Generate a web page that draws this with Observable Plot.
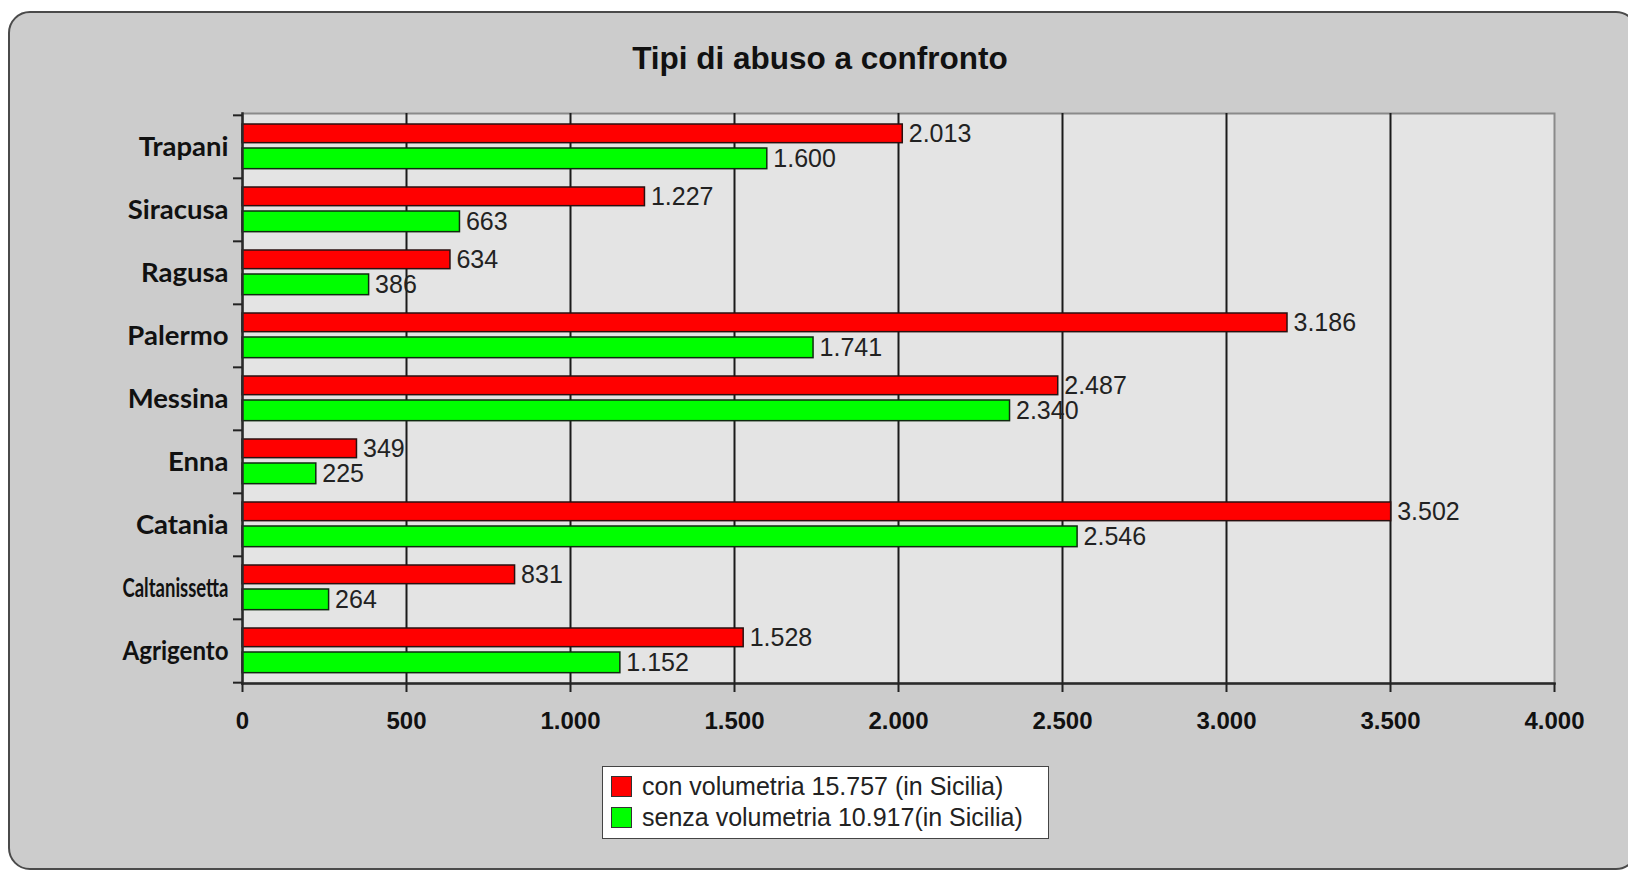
<!DOCTYPE html>
<html>
<head>
<meta charset="utf-8">
<script src="https://cdn.jsdelivr.net/npm/d3@7"></script>
<script src="https://cdn.jsdelivr.net/npm/@observablehq/plot@0.6"></script>
<style>
  html, body { margin: 0; padding: 0; background: #ffffff; }
  #wrap { position: relative; width: 1628px; height: 872px; overflow: hidden; }
  #bg { position: absolute; left: 8px; top: 11px; width: 1630px; height: 859px; background: #cccccc;
        border: 2px solid #4a4a4a; border-radius: 22px; box-sizing: border-box; }
  #title { position: absolute; left: 0; width: 1640px; top: 40px; text-align: center;
           font: bold 31.5px "Liberation Sans", Arial, sans-serif; line-height: 36px; color: #111; }
  #chart { position: absolute; left: 0; top: 0; }
  #legend { position: absolute; left: 602px; top: 766px; width: 447px; height: 73px; box-sizing: border-box;
            background: #ffffff; border: 1.5px solid #444; font: 25px "Liberation Sans", Arial, sans-serif; color: #222; }
  .row { position: absolute; left: 8px; height: 31px; line-height: 31px; white-space: nowrap; }
  .sw { display: inline-block; width: 19px; height: 19px; border: 1.5px solid #333; vertical-align: middle; margin-right: 10px; position: relative; top: -2px; }
</style>
</head>
<body>
<div id="wrap">
  <div id="bg"></div>
  <div id="chart"></div>
  <div id="title"></div>
  <div id="legend"></div>
</div>
<script>
// Data (top-to-bottom order as drawn)
const cities = ["Trapani", "Siracusa", "Ragusa", "Palermo", "Messina", "Enna", "Catania", "Caltanissetta", "Agrigento"];
const conVolumetria   = [2013, 1227, 634, 3186, 2487, 349, 3502, 831, 1528];
const senzaVolumetria = [1600, 663, 386, 1741, 2340, 225, 2546, 264, 1152];
const xTicks = [0, 500, 1000, 1500, 2000, 2500, 3000, 3500, 4000];
const gridTicks = [500, 1000, 1500, 2000, 2500, 3000, 3500];
const seriesNames = ["con volumetria 15.757 (in Sicilia)", "senza volumetria 10.917(in Sicilia)"];
const seriesColors = ["#ff0000", "#00ff00"];
const titleText = "Tipi di abuso a confronto";

const itFmt = d3.formatLocale({decimal: ",", thousands: ".", grouping: [3], currency: ["", "€"]}).format(",");

const conData = cities.map((c, i) => ({city: c, value: conVolumetria[i]}));
const senzaData = cities.map((c, i) => ({city: c, value: senzaVolumetria[i]}));

const W = 1628, H = 872;
const mL = 242, mR = 74, mT = 113, mB = 189;
const step = (H - mT - mB) / cities.length;

const chart = Plot.plot({
  width: W, height: H,
  marginLeft: mL, marginRight: mR, marginTop: mT, marginBottom: mB,
  style: {background: "transparent", overflow: "visible"},
  x: {domain: [0, 4000], axis: null},
  y: {domain: cities, padding: 0, axis: null},
  marks: [
    Plot.frame({fill: "#e4e4e4", stroke: "#8a8a8a", strokeWidth: 2}),
    Plot.ruleX(gridTicks, {stroke: "#1a1a1a", strokeWidth: 2}),
    Plot.barX(conData, {x: "value", y: "city", fill: seriesColors[0], stroke: "#2a1010", strokeWidth: 1.5,
      insetTop: 9, insetBottom: step - 28}),
    Plot.barX(senzaData, {x: "value", y: "city", fill: seriesColors[1], stroke: "#0f2a0f", strokeWidth: 1.5,
      insetTop: 33, insetBottom: step - 54}),
    Plot.text(conData, {x: "value", y: "city", text: d => itFmt(d.value), textAnchor: "start", dx: 6,
      dy: (9 + 28) / 2 - step / 2, fontSize: 25, fontFamily: "Liberation Sans, Arial, sans-serif", fill: "#222"}),
    Plot.text(senzaData, {x: "value", y: "city", text: d => itFmt(d.value), textAnchor: "start", dx: 6,
      dy: (33 + 54) / 2 - step / 2, fontSize: 25, fontFamily: "Liberation Sans, Arial, sans-serif", fill: "#222"}),
    Plot.frame({anchor: "left", stroke: "#2a2a2a", strokeWidth: 2.5}),
    Plot.frame({anchor: "bottom", stroke: "#2a2a2a", strokeWidth: 2.5}),
    Plot.axisX(xTicks, {label: null, tickSize: 9, tickPadding: 19, tickFormat: itFmt, stroke: "#222", strokeWidth: 2,
      fontSize: 24, fontWeight: "bold", fontFamily: "Liberation Sans, Arial, sans-serif", fill: "#111"}),
    Plot.axisY({label: null, tickSize: 0, tickPadding: 14, fontSize: 27.5, fontWeight: "bold",
      fontFamily: "Lato, sans-serif", fill: "#111"}),
    Plot.axisY(cities, {label: null, tickSize: 9, tickFormat: () => "", dy: -step / 2, stroke: "#222", strokeWidth: 2}),
    Plot.axisY(cities.slice(-1), {label: null, tickSize: 9, tickFormat: () => "", dy: step / 2, stroke: "#222", strokeWidth: 2})
  ]
});
document.getElementById("chart").appendChild(chart);
document.getElementById("title").textContent = titleText;

// squeeze overly long category labels, as in the original
const maxLabelWidth = 106;
chart.querySelectorAll("g[aria-label='y-axis tick label'] text").forEach(t => {
  if (t.getComputedTextLength() > maxLabelWidth) {
    t.setAttribute("textLength", maxLabelWidth);
    t.setAttribute("lengthAdjust", "spacingAndGlyphs");
  }
});

seriesNames.forEach((name, i) => {
  const row = document.getElementById("legend").appendChild(document.createElement("div"));
  row.className = "row";
  row.style.top = (4 + i * 31) + "px";
  const sw = document.createElement("span");
  sw.className = "sw";
  sw.style.background = seriesColors[i];
  row.appendChild(sw);
  row.appendChild(document.createTextNode(name));
});
</script>
</body>
</html>
